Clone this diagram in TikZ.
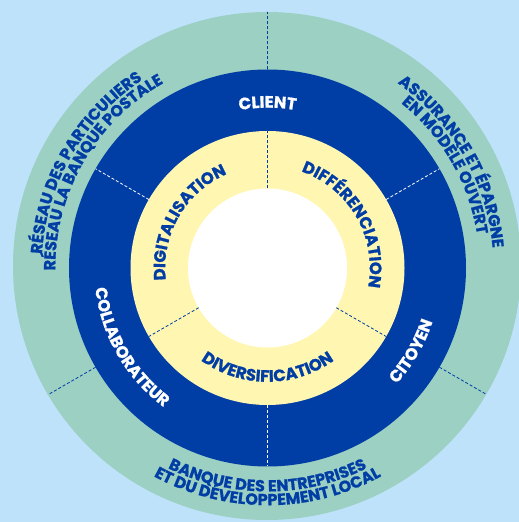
\documentclass[tikz,border=0pt]{standalone}
\usepackage{fontspec}
\setmainfont{Poppins}[BoldFeatures={FakeBold=1}]
\usetikzlibrary{decorations.text}
\definecolor{bgblue}{RGB}{190,226,250}
\definecolor{ringteal}{RGB}{155,208,195}
\definecolor{darkblue}{RGB}{0,61,165}
\definecolor{ringyellow}{RGB}{255,246,178}
\newcommand\ringfont{\fontsize{16.5}{16.5}\selectfont\bfseries}
\newcommand\outerfont{\fontsize{16}{16}\selectfont\bfseries}
\tikzset{
  ringtext/.style={decorate, decoration={text along path, text align=center, text color=#1}},
  dashline/.style={dash pattern=on 3pt off 2pt, line width=0.8pt},
}
\begin{document}
\begin{tikzpicture}[x=1pt,y=1pt]
\useasboundingbox (0,0) rectangle (519,522);
\clip (0,0) rectangle (519,522);
\fill[bgblue] (0,0) rectangle (519,522);
\coordinate (c) at (267.5,254);
\coordinate (oc) at (267,256);
\fill[ringteal] (oc) circle[radius=254pt];
\fill[darkblue] (c) circle[radius=198.5pt];
\fill[ringyellow] (c) circle[radius=137pt];
\fill[white] (c) circle[radius=79.5pt];
% dashed separators
\begin{scope}
\clip (oc) circle[radius=254pt];
\foreach \a in {90,210,330}
  \draw[dashline, darkblue] ([shift={(\a:198.5pt)}]c) -- ([shift={(\a:262pt)}]c);
\end{scope}
\foreach \a in {30,150,270}
  \draw[dashline, white] ([shift={(\a:137pt)}]c) -- ([shift={(\a:198.5pt)}]c);
\foreach \a in {90,210,330}
  \draw[dashline, darkblue] ([shift={(\a:79.5pt)}]c) -- ([shift={(\a:137pt)}]c);
% dark ring texts
\path[ringtext=white, decoration={text={|\ringfont|CLIENT}}]
  ([shift={(150:160.3pt)}]c) arc[start angle=150, end angle=30, radius=160.3pt];
\path[ringtext=white, decoration={text={|\ringfont|COLLABORATEUR}}]
  ([shift={(150:173.5pt)}]c) arc[start angle=150, end angle=270, radius=173.5pt];
\path[ringtext=white, decoration={text={|\ringfont|CITOYEN}}]
  ([shift={(270:173.5pt)}]c) arc[start angle=270, end angle=390, radius=173.5pt];
% yellow ring texts
\path[ringtext=darkblue, decoration={text={|\ringfont|DIGITALISATION}}]
  ([shift={(215:102.3pt)}]c) arc[start angle=215, end angle=85, radius=102.3pt];
\path[ringtext=darkblue, decoration={text={|\ringfont|DIFFÉRENCIATION}}]
  ([shift={(95:102.3pt)}]c) arc[start angle=95, end angle=-35, radius=102.3pt];
\path[ringtext=darkblue, decoration={text={|\ringfont|DIVERSIFICATION}}]
  ([shift={(205:113.8pt)}]c) arc[start angle=205, end angle=335, radius=113.8pt];
% outer ring texts
\path[ringtext=darkblue, decoration={text={|\outerfont|RÉSEAU DES PARTICULIERS}}]
  ([shift={(210:226pt)}]c) arc[start angle=210, end angle=90, radius=226pt];
\path[ringtext=darkblue, decoration={text={|\outerfont|RÉSEAU LA BANQUE POSTALE}}]
  ([shift={(210:212.2pt)}]c) arc[start angle=210, end angle=90, radius=212.2pt];
\path[ringtext=darkblue, decoration={text={|\outerfont|ASSURANCE ET ÉPARGNE}}]
  ([shift={(90:226pt)}]c) arc[start angle=90, end angle=-30, radius=226pt];
\path[ringtext=darkblue, decoration={text={|\outerfont|EN MODÈLE OUVERT}}]
  ([shift={(90:212.2pt)}]c) arc[start angle=90, end angle=-30, radius=212.2pt];
\path[ringtext=darkblue, decoration={text={|\outerfont|BANQUE DES ENTREPRISES}}]
  ([shift={(210:223.4pt)}]c) arc[start angle=210, end angle=330, radius=223.4pt];
\path[ringtext=darkblue, decoration={text={|\outerfont|ET DU DÉVELOPPEMENT LOCAL}}]
  ([shift={(210:237.2pt)}]c) arc[start angle=210, end angle=330, radius=237.2pt];
\end{tikzpicture}
\end{document}
